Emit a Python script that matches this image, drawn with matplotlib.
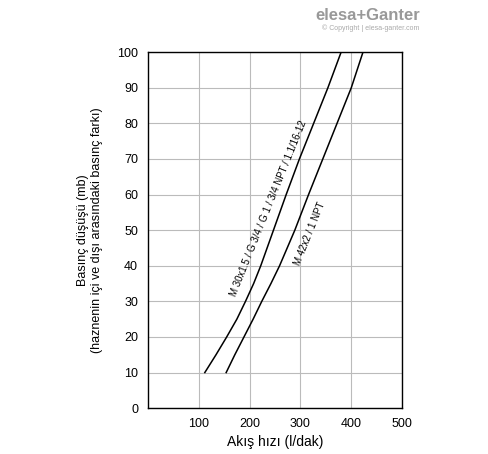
import matplotlib
matplotlib.use("Agg")
import matplotlib.pyplot as plt

plt.rcParams['font.family'] = ['Liberation Sans', 'DejaVu Sans']

# egri verileri (okunan degerler)
basinc = [10, 15, 20, 25, 30, 35, 40, 50, 60, 70, 80, 90, 100]
akis_m30 = [112, 134, 155, 175, 192, 208, 222, 247, 272, 298, 326, 354, 380]
akis_m42 = [154, 171, 189, 207, 224, 242, 259, 289, 316, 344, 372, 400, 423]
x_ticks = [100, 200, 300, 400, 500]
y_ticks = [0, 10, 20, 30, 40, 50, 60, 70, 80, 90, 100]

fig = plt.figure(figsize=(4.88, 4.54), dpi=100)
ax = fig.add_axes([0.303, 0.101, 0.521, 0.784])
ax.plot(akis_m30, basinc, 'k-', lw=1.1)
ax.plot(akis_m42, basinc, 'k-', lw=1.1)
ax.set_xlim(0, 500)
ax.set_ylim(0, 100)
ax.set_xticks(x_ticks)
ax.set_yticks(y_ticks)
ax.grid(True, color='#bbbbbb', lw=0.8)
ax.tick_params(length=0, labelsize=9, pad=7)
for s in ax.spines.values():
    s.set_linewidth(1.0)

ax.text(238, 56, 'M 30x1.5 / G 3/4 / G 1 / 3/4 NPT / 1.1/16-12', rotation=68,
        ha='center', va='center', fontsize=7, rotation_mode='anchor')
ax.text(318, 49, 'M 42x2 / 1 NPT', rotation=68,
        ha='center', va='center', fontsize=7, rotation_mode='anchor')

ax.set_xlabel('Akış hızı (l/dak)', fontsize=10, labelpad=4)
ax.set_ylabel('Basınç düşüşü (mb)\n(haznenin içi ve dışı arasındaki basınç farkı)', fontsize=9, labelpad=10)

fig.text(0.86, 0.955, 'elesa+Ganter', color='#999999', fontsize=12, ha='right', weight='bold')
fig.text(0.86, 0.935, '© Copyright | elesa-ganter.com', color='#aaaaaa', fontsize=5, ha='right')

fig.savefig('out.png', dpi=100)
